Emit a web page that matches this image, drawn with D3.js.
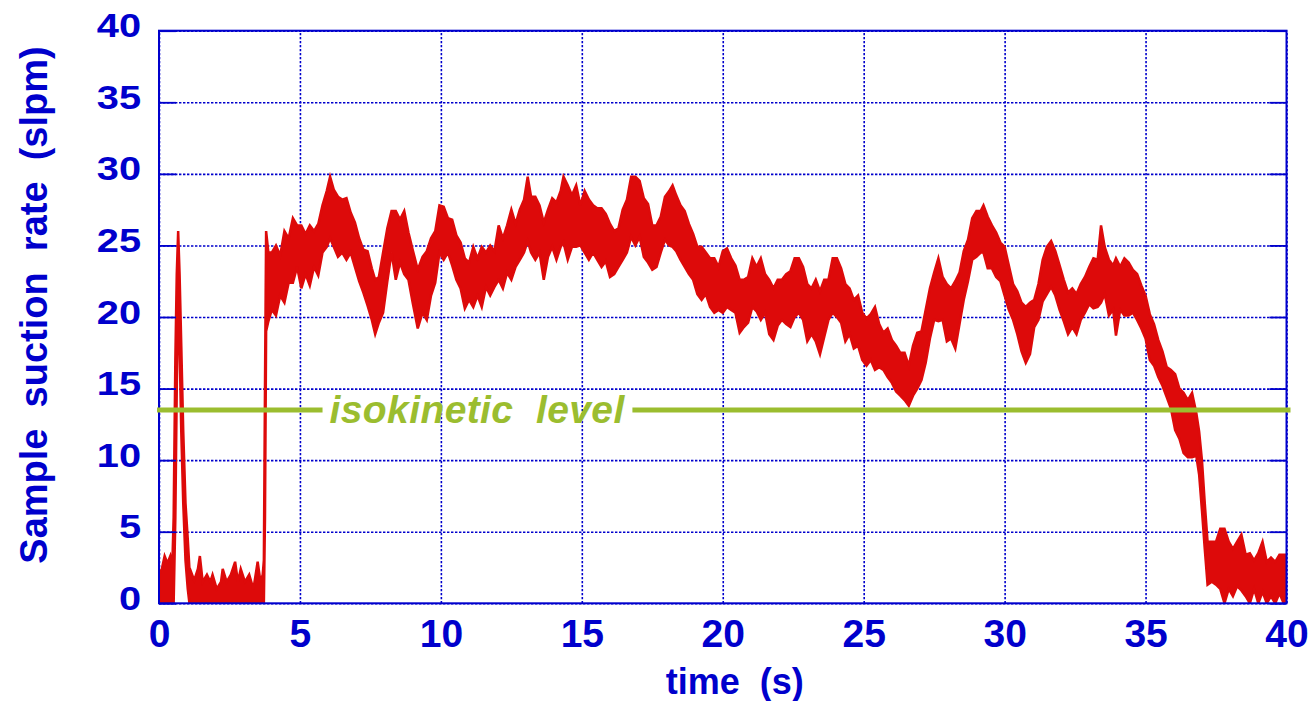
<!DOCTYPE html>
<html>
<head>
<meta charset="utf-8">
<script src="https://cdn.jsdelivr.net/npm/d3@7"></script>
<style>
  body { margin: 0; background: #ffffff; }
  svg { display: block; }
</style>
</head>
<body>
<svg id="chart" width="1312" height="701"></svg>
<script>
// Sample suction rate record: lower and upper envelope of the noisy signal (slpm) against time (s)
const time = [
  0.0, 0.1, 0.2, 0.3, 0.4, 0.47, 0.52, 0.58, 0.63, 0.68, 0.73, 0.79, 0.86, 0.94, 1.02, 1.08,
  1.1, 1.25, 1.38, 1.45, 1.55, 1.7, 1.82, 1.9, 2.05, 2.2, 2.26, 2.4, 2.55, 2.7, 2.8, 2.9,
  3.05, 3.2, 3.35, 3.5, 3.6, 3.68, 3.72, 3.76, 3.8, 3.88, 4.0, 4.15, 4.3, 4.45, 4.6, 4.75,
  4.9, 5.05, 5.2, 5.35, 5.5, 5.65, 5.8, 5.95, 6.07, 6.2, 6.35, 6.5, 6.65, 6.8, 6.95, 7.1,
  7.25, 7.4, 7.55, 7.67, 7.8, 7.95, 8.1, 8.25, 8.4, 8.55, 8.7, 8.85, 9.0, 9.18, 9.35, 9.5,
  9.65, 9.8, 9.95, 10.1, 10.25, 10.4, 10.55, 10.7, 10.85, 11.0, 11.15, 11.3, 11.45, 11.6, 11.75, 11.9,
  12.05, 12.2, 12.35, 12.5, 12.65, 12.8, 12.95, 13.08, 13.2, 13.35, 13.5, 13.65, 13.8, 13.95, 14.1, 14.25,
  14.35, 14.5, 14.65, 14.8, 14.95, 15.1, 15.25, 15.4, 15.55, 15.7, 15.85, 16.0, 16.15, 16.3, 16.45, 16.6,
  16.75, 16.9, 17.05, 17.2, 17.35, 17.5, 17.65, 17.8, 17.95, 18.1, 18.22, 18.35, 18.5, 18.65, 18.8, 18.95,
  19.1, 19.25, 19.4, 19.55, 19.7, 19.85, 20.0, 20.15, 20.3, 20.45, 20.6, 20.75, 20.9, 21.05, 21.2, 21.35,
  21.5, 21.65, 21.8, 21.95, 22.1, 22.25, 22.4, 22.55, 22.7, 22.85, 23.0, 23.15, 23.3, 23.45, 23.6, 23.75,
  23.9, 24.05, 24.2, 24.35, 24.5, 24.65, 24.8, 24.95, 25.1, 25.25, 25.4, 25.55, 25.7, 25.85, 26.0, 26.15,
  26.3, 26.45, 26.6, 26.75, 26.9, 27.05, 27.2, 27.35, 27.5, 27.65, 27.8, 27.95, 28.1, 28.25, 28.4, 28.55,
  28.7, 28.85, 29.0, 29.15, 29.25, 29.4, 29.55, 29.7, 29.85, 30.0, 30.15, 30.3, 30.45, 30.6, 30.75, 30.9,
  31.05, 31.2, 31.35, 31.5, 31.65, 31.8, 31.95, 32.1, 32.25, 32.4, 32.55, 32.7, 32.85, 33.0, 33.15, 33.3,
  33.42, 33.55, 33.7, 33.85, 33.95, 34.1, 34.25, 34.4, 34.55, 34.7, 34.85, 35.0, 35.15, 35.3, 35.45, 35.6,
  35.75, 35.9, 36.05, 36.2, 36.35, 36.5, 36.65, 36.8, 36.9, 37.0, 37.1, 37.2, 37.35, 37.5, 37.65, 37.8,
  37.95, 38.1, 38.25, 38.4, 38.55, 38.7, 38.85, 39.0, 39.15, 39.3, 39.45, 39.6, 39.75, 39.9, 40.0
];
const low = [
  0, 0, 0, 0, 0, 0, 0, 6, 15, 22, 18, 12, 7, 3, 1, 0,
  0, 0, 0, 0, 0, 0, 0, 0, 0, 0, 0, 0, 0, 0, 0, 0,
  0, 0, 0, 0, 0, 0, 0, 6, 19, 19.7, 20.5, 20.1, 21.5, 21, 22.4, 22.4,
  23.5, 22, 23, 22.2, 23.5, 22.9, 24.5, 24.9, 25.5, 24.9, 24.2, 24.5, 24.0, 24.5, 23.5, 22.5,
  21.7, 20.8, 19.8, 18.8, 19.6, 20.3, 22.5, 24.5, 22.6, 23.8, 23.0, 22.6, 21, 19.2, 20.3, 19.8,
  21.5, 22.4, 24.5, 24.0, 24.5, 23.6, 22.6, 22.0, 20.6, 21.2, 20.7, 21.5, 20.7, 22.1, 21.5, 22.1,
  22.6, 22.0, 23.1, 22.6, 23.5, 24.0, 24.5, 25.3, 24.5, 24.0, 24.5, 22.6, 24.2, 24.9, 24.0, 24.9,
  25.2, 24.0, 24.9, 24.9, 25.0, 24.5, 24.0, 24.5, 24.0, 23.5, 23.9, 22.8, 23.0, 23.5, 24.0, 24.5,
  25.6, 25.0, 25.6, 24.2, 23.8, 23.3, 23.5, 24.5, 25.4, 25.0, 24.9, 24.6, 24.0, 23.5, 23.0, 22.6,
  21.6, 21.2, 21.6, 20.7, 20.3, 20.5, 20.3, 20.7, 20.5, 20.3, 18.9, 19.3, 19.6, 20.7, 20.4, 19.8,
  20.3, 18.8, 18.4, 19.4, 19.8, 19.5, 19.3, 20.0, 20.3, 19.8, 18.3, 18.8, 18.3, 17.4, 18.6, 19.8,
  20.3, 20.0, 19.6, 18.3, 18.8, 17.8, 18.0, 17.0, 16.6, 17.0, 16.3, 16.5, 16.3, 15.8, 15.4, 14.8,
  14.5, 14.2, 13.8, 14.5, 15.0, 15.6, 16.8, 18.5, 19.8, 19.7, 19.8, 18.3, 18.5, 17.8, 19.5, 21.2,
  22.5, 24.0, 24.2, 24.5, 24.5, 23.4, 23.4, 22.8, 22.5, 21.5, 20.5, 19.8, 18.8, 17.6, 16.8, 17.4,
  19.3, 19.8, 21.1, 21.6, 22.1, 21.5, 20.5, 19.7, 18.8, 19.3, 18.8, 19.8, 20.3, 20.9, 20.6, 20.7,
  21.0, 21.6, 20.1, 20.5, 18.7, 20.5, 20.1, 20.1, 20.3, 19.8, 19.2, 18.5, 17.0, 16.6, 15.8, 15.2,
  14.4, 13.6, 12.1, 11.5, 10.5, 10.2, 10.2, 10.3, 9.0, 6.5, 3.8, 1.3, 1.5, 1.3, 1.0, 0.0,
  1.0, 0.5, 1.2, 0.9, 0.5, 0.0, 1.0, 0.0, 0.8, 0.0, 0.5, 0.0, 0.7, 0.0, 0.3
];
const high = [
  2.0, 2.4, 3.3, 2.8, 3.3, 2.5, 6, 17, 23, 26, 23, 18, 12, 7, 4.5, 2.4,
  2.4, 1.6, 2.4, 3.3, 1.5, 2.0, 1.5, 2.0, 1.0, 1.5, 2.4, 1.5, 2.0, 2.9, 1.5, 2.4,
  1.5, 2.0, 1.0, 2.9, 1.5, 2.0, 3, 15, 26, 24.5, 24.5, 25, 24.3, 26, 25.5, 26.9,
  26.4, 26.4, 25.8, 26.4, 26, 26.5, 27.8, 28.8, 29.8, 28.9, 28.4, 28.2, 28.3, 27.3, 26.6, 25.5,
  24.7, 24.6, 23.4, 22.6, 22.8, 24.5, 26.2, 27.4, 27.4, 26.8, 27.4, 25.9, 24.7, 23.3, 24.2, 24.6,
  25.5, 26, 27.8, 27.7, 26.9, 26.8, 25.7, 25.2, 24.1, 23.8, 24.9, 24.1, 24.9, 24.5, 25.0, 24.6,
  26.4, 25.5, 26.4, 27.5, 26.5, 27.5, 28.2, 29.8, 28.4, 28.4, 27.8, 26.6, 27.5, 28.3, 28.0, 28.8,
  29.8, 29.2, 28.5, 29.2, 27.8, 28.8, 28.2, 27.8, 27.6, 27.6, 27.2, 26.5, 26.0, 26.2, 27.5, 28.2,
  29.8, 29.8, 29.5, 28.3, 27.9, 26.4, 26.4, 27.0, 28.4, 28.8, 29.2, 28.5, 27.8, 27.4, 26.5, 25.8,
  24.9, 24.9, 24.5, 24.1, 24.1, 23.5, 24.6, 24.8, 24.1, 23.6, 22.6, 22.6, 22.8, 24.1, 23.5, 24.1,
  23.0, 22.6, 22.0, 22.6, 22.6, 23.0, 23.2, 24.1, 24.1, 23.5, 22.3, 22.0, 22.6, 21.8, 22.6, 22.6,
  24.1, 24.1, 23.4, 22.3, 22.0, 21.2, 21.5, 20.3, 19.9, 20.2, 20.7, 19.5, 18.9, 19.2, 18.4, 18.0,
  17.5, 17.5, 16.6, 18.0, 18.9, 19.0, 20.5, 22.0, 23.1, 24.1, 22.8, 22.3, 22.0, 22.5, 23.1, 24.6,
  25.4, 26.9, 27.4, 27.4, 27.8, 27.0, 26.4, 25.9, 25.2, 24.9, 23.6, 22.3, 21.8, 21.0, 20.7, 21.0,
  21.2, 22.3, 24.0, 24.9, 25.3, 24.6, 23.6, 22.6, 21.7, 22.0, 21.6, 22.3, 22.8, 23.5, 24.1, 24.0,
  26.4, 24.9, 24.0, 23.6, 24.1, 23.5, 24.1, 23.8, 23.3, 23.0, 22.2, 21.5, 20.2, 19.5, 18.4, 17.6,
  16.5, 16.3, 16.0, 15.0, 14.7, 14.2, 14.7, 13.3, 12.0, 10.0, 7.0, 4.3, 4.3, 4.3, 5.2, 5.2,
  4.3, 3.8, 4.3, 4.8, 3.4, 3.5, 3.0, 3.5, 4.3, 2.9, 3.2, 2.9, 3.4, 3.4, 3.4
];
const xTicks = [0, 5, 10, 15, 20, 25, 30, 35, 40];
const yTicks = [0, 5, 10, 15, 20, 25, 30, 35, 40];
const isokineticLevel = 13.5;
const levelLabel = "isokinetic  level";
const xTitle = "time  (s)";
const yTitle = "Sample  suction  rate  (slpm)";

const BLUE = "#0000cc";
const RED = "#dd0a0a";
const GREEN = "#9bbd2f";
const fontFam = "Liberation Sans, Arial, Helvetica, sans-serif";

const svg = d3.select("#chart");
const plot = { left: 159, right: 1286.5, top: 30.7, bottom: 603.3 };
const pw = plot.right - plot.left, ph = plot.bottom - plot.top;

const x = d3.scaleLinear().domain([0, 40]).range([plot.left, plot.right]);
const y = d3.scaleLinear().domain([0, 40]).range([plot.bottom, plot.top]);

svg.append("defs").append("clipPath").attr("id", "plot-clip")
  .append("rect").attr("x", plot.left).attr("y", plot.top).attr("width", pw).attr("height", ph);

// dotted grid
const gridX = svg.append("g").attr("transform", `translate(0,${plot.bottom})`)
  .call(d3.axisBottom(x).tickValues(xTicks).tickSize(-ph).tickFormat(""));
const gridY = svg.append("g").attr("transform", `translate(${plot.left},0)`)
  .call(d3.axisLeft(y).tickValues(yTicks).tickSize(-pw).tickFormat(""));
[gridX, gridY].forEach(g => {
  g.select(".domain").remove();
  g.selectAll(".tick text").remove();
  g.selectAll(".tick line").attr("stroke", BLUE).attr("stroke-width", 1.6)
    .attr("stroke-dasharray", "2.4,1.6");
});

// signal envelope
const series = time.map((t, i) => ({ t, lo: low[i], hi: high[i] }));
const band = d3.area()
  .x(d => x(d.t)).y0(d => y(d.lo)).y1(d => y(d.hi))
  .curve(d3.curveLinear);
svg.append("path").datum(series)
  .attr("d", band)
  .attr("fill", RED).attr("stroke", RED).attr("stroke-width", 2.5)
  .attr("stroke-linejoin", "miter")
  .attr("clip-path", "url(#plot-clip)");

// frame
svg.append("rect").attr("x", plot.left).attr("y", plot.top).attr("width", pw).attr("height", ph)
  .attr("fill", "none").attr("stroke", BLUE).attr("stroke-width", 2);

// inward major ticks on both vertical sides
const tickLeft = svg.append("g").attr("transform", `translate(${plot.left},0)`)
  .call(d3.axisRight(y).tickValues(yTicks).tickSize(17).tickFormat(""));
const tickRight = svg.append("g").attr("transform", `translate(${plot.right},0)`)
  .call(d3.axisLeft(y).tickValues(yTicks).tickSize(17).tickFormat(""));
[tickLeft, tickRight].forEach(g => {
  g.select(".domain").remove();
  g.selectAll(".tick text").remove();
  g.selectAll(".tick line").attr("stroke", BLUE).attr("stroke-width", 1.8);
});

// isokinetic level line with its label in a gap
const levelY = y(isokineticLevel);
const levelG = svg.append("g");
const label = levelG.append("text")
  .attr("x", x(6.05)).attr("y", levelY + 13)
  .attr("font-family", fontFam)
  .attr("font-weight", "bold").attr("font-style", "italic")
  .attr("font-size", 39).attr("fill", GREEN)
  .attr("letter-spacing", 0.4)
  .style("white-space", "pre")
  .text(levelLabel);
const lb = label.node().getBBox();
levelG.append("line")
  .attr("x1", plot.left - 2).attr("x2", lb.x - 7)
  .attr("y1", levelY).attr("y2", levelY)
  .attr("stroke", GREEN).attr("stroke-width", 5);
levelG.append("line")
  .attr("x1", lb.x + lb.width + 7).attr("x2", plot.right + 4)
  .attr("y1", levelY).attr("y2", levelY)
  .attr("stroke", GREEN).attr("stroke-width", 5);

// tick labels
const xLab = svg.append("g").attr("transform", `translate(0,${plot.bottom})`)
  .call(d3.axisBottom(x).tickValues(xTicks).tickSize(0).tickPadding(0).tickFormat(d3.format("d")));
xLab.select(".domain").remove();
xLab.selectAll(".tick line").remove();
xLab.selectAll(".tick text").attr("y", 44).attr("dy", null)
  .attr("font-family", fontFam).attr("font-weight", "bold").attr("font-size", 39).attr("fill", BLUE);

const yLab = svg.append("g").attr("transform", `translate(${plot.left},0)`)
  .call(d3.axisLeft(y).tickValues(yTicks).tickSize(0).tickPadding(0).tickFormat(d3.format("d")));
yLab.select(".domain").remove();
yLab.selectAll(".tick line").remove();
yLab.selectAll(".tick text")
  .attr("x", null).attr("dy", null)
  .attr("text-anchor", "end")
  .attr("transform", "translate(-18,6) scale(1.17,1)")
  .attr("font-family", fontFam).attr("font-weight", "bold").attr("font-size", 34).attr("fill", BLUE);

// axis titles
svg.append("text")
  .attr("x", (plot.left + plot.right) / 2 + 12).attr("y", 694)
  .attr("text-anchor", "middle")
  .attr("font-family", fontFam).attr("font-weight", "bold").attr("font-size", 36).attr("fill", BLUE)
  .style("white-space", "pre")
  .text(xTitle);
svg.append("text")
  .attr("transform", `translate(47,${305}) rotate(-90)`)
  .attr("text-anchor", "middle")
  .attr("font-family", fontFam).attr("font-weight", "bold").attr("font-size", 38).attr("fill", BLUE)
  .style("white-space", "pre")
  .text(yTitle);
</script>
</body>
</html>
